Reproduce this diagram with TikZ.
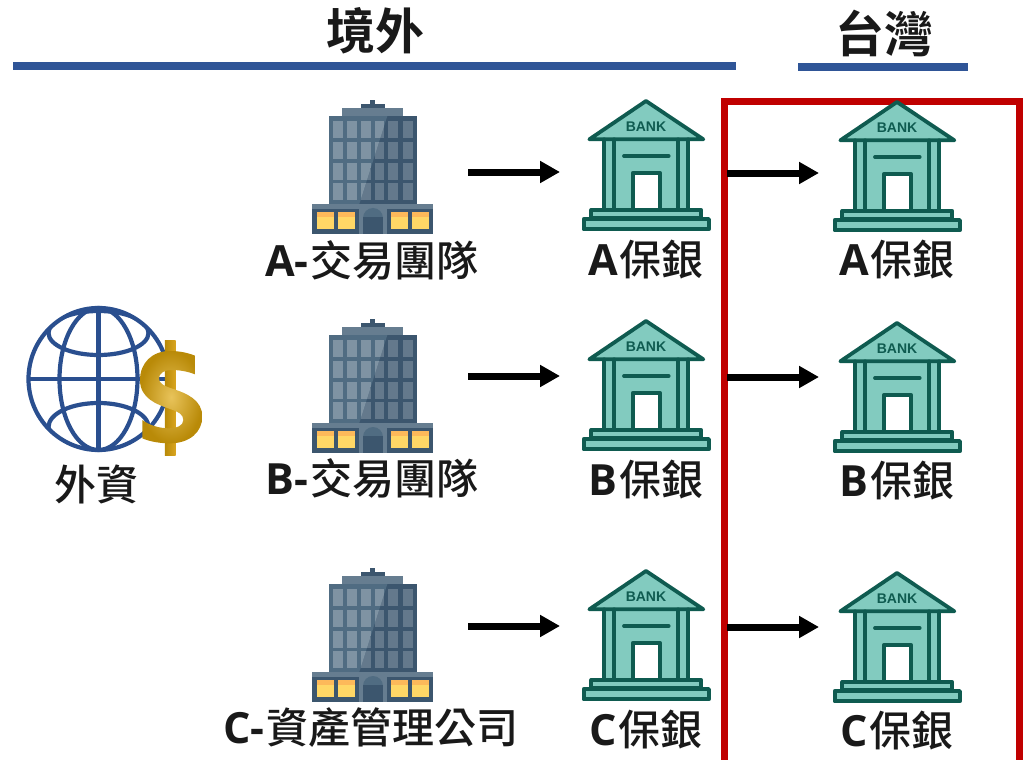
\documentclass[tikz,border=0pt]{standalone}
\usepackage{fontspec}
\usetikzlibrary{arrows.meta}
\setmainfont{Liberation Sans}
\newfontfamily\cjkb{Noto Sans CJK TC Medium}
\newfontfamily\cjkh{Noto Sans CJK TC Bold}
\newfontfamily\latb{Open Sans}
\definecolor{hblue}{HTML}{2F5597}
\definecolor{fred}{HTML}{C00000}
\definecolor{bdark}{HTML}{0F5B50}
\definecolor{bfill}{HTML}{82CBBF}
\definecolor{tdark}{HTML}{3C566E}
\definecolor{tmid}{HTML}{506C82}
\definecolor{troof}{HTML}{667D90}
\definecolor{wlight}{HTML}{7F93A3}
\definecolor{wdark}{HTML}{64798C}
\definecolor{globe}{HTML}{2A4F8F}
\definecolor{golda}{HTML}{B98A08}
\definecolor{goldb}{HTML}{D9A520}
\definecolor{goldc}{HTML}{E8C35A}
\definecolor{wyel}{HTML}{FFD766}
\definecolor{worg}{HTML}{FDB95A}
\newcommand{\lt}[1]{{\latb\bfseries\fontsize{43}{43}\selectfont #1\kern2pt}}
\tikzset{
 lab/.style={font=\cjkb\fontsize{42}{42}\selectfont,inner sep=0pt,anchor=center,text=black!90},
 head/.style={font=\cjkh\fontsize{49}{49}\selectfont,inner sep=0pt,anchor=center,text=black!90},
 rule/.style={draw=hblue,line width=8pt},
 flow/.style={draw=black,line width=7pt,-{Triangle[length=20pt,width=21pt]}},
 bankln/.style={draw=bdark,line width=3.8pt,line join=round,line cap=round},
 bank/.pic={
  \begin{scope}[scale=1/3]
   \fill[bfill] (103,148) rectangle (355,358);
   \path[bankln,fill=bfill] (58,148) -- (228,33) -- (400,148) -- cycle;
   \foreach \cx in {103,133,325,355}{\draw[bankln] (\cx,148) -- (\cx,358);}
   \draw[bankln] (162,198) -- (296,198);
   \path[bankln,fill=white] (189,358) -- (189,248) -- (270,248) -- (270,358);
   \path[bankln,fill=bfill] (64,360) rectangle (394,385);
   \path[bankln,fill=bfill] (41,387) rectangle (417,418);
   \node[font=\bfseries\fontsize{14}{14}\selectfont,text=bdark,inner sep=0pt] (-bk) at (228,110) {BANK};
  \end{scope}
 },
 tower/.pic={
  \begin{scope}[scale=1/3]
   \fill[tdark] (210,30) rectangle (225,42);
   \fill[tdark] (183,42) rectangle (255,54);
   \fill[troof] (126,54) rectangle (309,78);
   \fill[tdark] (87,78) rectangle (351,342);
   \foreach \wy/\wh in {93/51,156/51,219/51,279/51}{
    \foreach \wx/\ww in {99/30,141/30,183/30,225/27,264/30,309/30}{
     \fill[wdark] (\wx,\wy) rectangle ++(\ww,\wh);}}
   \begin{scope}
    \clip (87,78) -- (262,78) -- (178,342) -- (87,342) -- cycle;
    \fill[tmid] (87,78) rectangle (351,342);
    \foreach \wy/\wh in {93/51,156/51,219/51,279/51}{
     \foreach \wx/\ww in {99/30,141/30,183/30,225/27}{
      \fill[wlight] (\wx,\wy) rectangle ++(\ww,\wh);}}
   \end{scope}
   \fill[troof] (36,342) rectangle (399,357);
   \fill[tdark] (36,357) rectangle (399,432);
   \fill[troof] (177,357) rectangle (261,432);
   \fill[tmid] (189,384) arc[start angle=180,end angle=360,x radius=30,y radius=30] -- cycle;
   \fill[tdark] (189,381) rectangle (249,432);
   \foreach \sx in {51,114,273,336}{
    \fill[wyel] (\sx,366) rectangle ++(51,51);
    \fill[worg] (\sx,366) rectangle ++(51,15);}
  \end{scope}
 }
}
\begin{document}
\begin{tikzpicture}[x=1pt,y=-1pt]
\useasboundingbox (0,0) rectangle (1029,760);
% headings
\node[head] (hout) at (375,31) {境外};
\node[head] (htw) at (884,33) {台灣};
\coordinate (r1a) at (13,66); \coordinate (r1b) at (736,66);
\coordinate (r2a) at (798,67); \coordinate (r2b) at (968,67);
\draw[rule] (r1a) -- (r1b);
\draw[rule] (r2a) -- (r2b);
% frame
\draw[draw=fred,line width=7pt] (724,760) -- (724,102) -- (1019,102) -- (1019,760);
% globe
\begin{scope}[draw=globe,line width=4.2pt]
 \draw (98.5,379) circle[x radius=70,y radius=71];
 \draw (98.5,379) ellipse[x radius=39,y radius=71];
 \draw (98.5,308) -- (98.5,450);
 \draw (28.5,379) -- (168.5,379);
 \begin{scope}
  \clip (98.5,379) circle[x radius=70,y radius=71];
  \draw (98.5,333) ellipse[x radius=50,y radius=22];
  \draw (98.5,427) ellipse[x radius=50,y radius=24];
 \end{scope}
\end{scope}
% dollar
\begin{scope}[shift={(10,295)},scale=1/3]
 \shade[left color=golda,right color=goldb] (465,135) rectangle (497,480);
 \shade[inner color=goldc,outer color=golda,draw=none]
  (555,182) .. controls (530,172) and (505,168) .. (480,168)
  .. controls (425,168) and (390,205) .. (390,255)
  .. controls (390,310) and (440,328) .. (480,342)
  .. controls (505,350) and (520,358) .. (520,375)
  .. controls (520,392) and (500,400) .. (478,400)
  .. controls (450,400) and (420,392) .. (397,375)
  -- (397,430)
  .. controls (420,440) and (450,445) .. (480,445)
  .. controls (540,445) and (577,410) .. (577,365)
  .. controls (577,315) and (530,295) .. (490,282)
  .. controls (460,272) and (447,265) .. (447,250)
  .. controls (447,235) and (462,225) .. (485,225)
  .. controls (510,225) and (535,230) .. (555,238) -- cycle;
\end{scope}
\node[lab] (lfx) at (96,484) {外資};
% towers
\pic (t1) at (300,90) {tower};
\pic (t2) at (300,309) {tower};
\pic (t3) at (300,558) {tower};
% banks
\pic (ba) at (570,90) {bank};
\pic (bb) at (570,310) {bank};
\pic (bc) at (570,560) {bank};
\pic (ta) at (821,91) {bank};
\pic (tb) at (821,312) {bank};
\pic (tc) at (821,562) {bank};
% labels
\node[lab] (la) at (372,260) {\lt{A-}交易團隊};
\node[lab] (lb) at (372,478) {\lt{B-}交易團隊};
\node[lab] (lc) at (371,728) {\lt{C-}資產管理公司};
\node[lab] (lba) at (646,260) {\lt{A}保銀};
\node[lab] (lbb) at (646,480) {\lt{B}保銀};
\node[lab] (lbc) at (646,730) {\lt{C}保銀};
\node[lab] (lta) at (897,260) {\lt{A}保銀};
\node[lab] (ltb) at (897,481) {\lt{B}保銀};
\node[lab] (ltc) at (897,731) {\lt{C}保銀};
% arrows
\coordinate (a1) at (468,172); \coordinate (a2) at (560,172);
\coordinate (b1) at (468,376); \coordinate (b2) at (560,376);
\coordinate (c1) at (468,626); \coordinate (c2) at (560,626);
\coordinate (d1) at (727,173); \coordinate (d2) at (819,173);
\coordinate (e1) at (727,377); \coordinate (e2) at (819,377);
\coordinate (f1) at (727,627); \coordinate (f2) at (819,627);
\draw[flow] (a1) -- (a2);
\draw[flow] (b1) -- (b2);
\draw[flow] (c1) -- (c2);
\draw[flow] (d1) -- (d2);
\draw[flow] (e1) -- (e2);
\draw[flow] (f1) -- (f2);
\end{tikzpicture}
\end{document}
